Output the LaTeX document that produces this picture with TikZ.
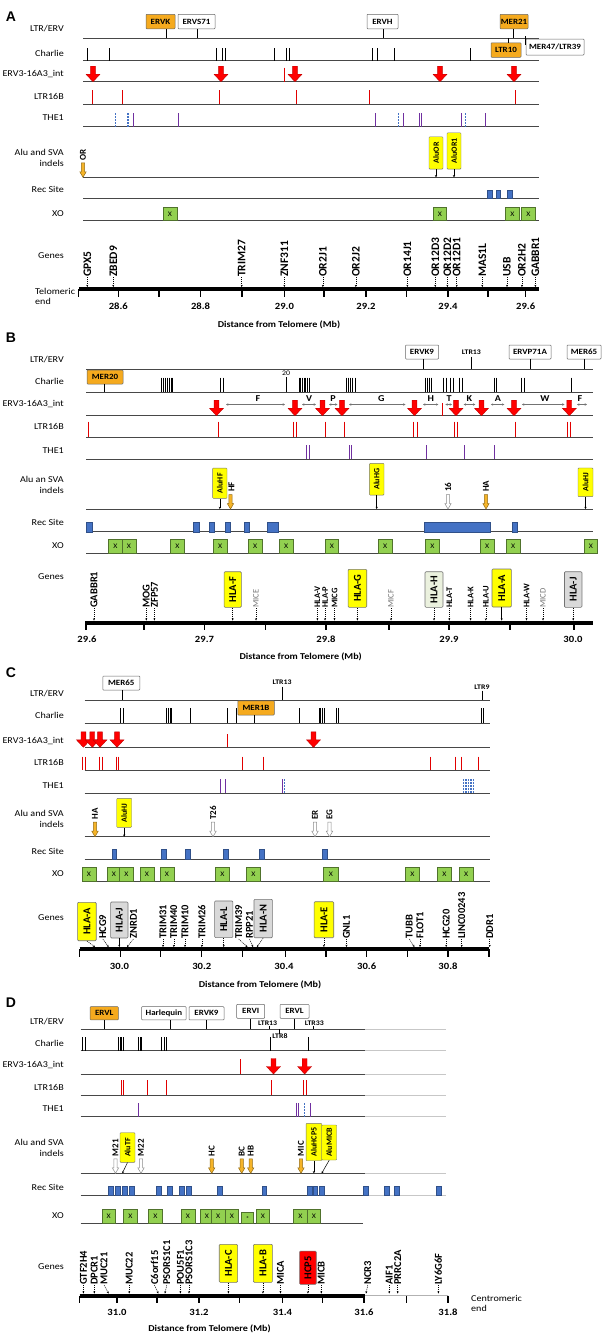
\documentclass[tikz,border=0pt]{standalone}
\usepackage{fontspec}
\setmainfont{Carlito}[FakeStretch=1.12]
\newfontfamily\rotfont{Carlito}
\newfontfamily\panelfont{Liberation Sans}
\usetikzlibrary{arrows.meta}

\definecolor{ervorange}{RGB}{245,170,30}
\definecolor{aluyellow}{RGB}{255,255,0}
\definecolor{xogreen}{RGB}{146,208,80}
\definecolor{recblue}{RGB}{68,114,196}
\definecolor{thepurple}{RGB}{112,48,160}
\definecolor{ltrred}{RGB}{225,0,0}
\definecolor{indelorange}{RGB}{245,180,40}
\definecolor{hlapale}{RGB}{235,241,222}
\definecolor{hlagray}{RGB}{217,217,217}
\definecolor{hcpred}{RGB}{255,0,0}

% red ERV3-16A3_int arrow: x, top
\newcommand{\ervarrow}[2]{%
  \filldraw[fill=red, draw=red!75!black, line width=0.4pt]
    (#1-2.4,#2) -- (#1+2.4,#2) -- (#1+2.4,#2+8) -- (#1+7,#2+8) -- (#1,#2+15.5)
    -- (#1-7,#2+8) -- (#1-2.4,#2+8) -- cycle;}
% narrow indel arrow: fill, border, x, top
\newcommand{\indelarrow}[4]{%
  \filldraw[fill=#1, draw=#2, line width=0.5pt]
    (#3-1.6,#4) -- (#3+1.6,#4) -- (#3+1.6,#4+9) -- (#3+3.2,#4+9) -- (#3,#4+14.5)
    -- (#3-3.2,#4+9) -- (#3-1.6,#4+9) -- cycle;}

\tikzset{
  rowlbl/.style={anchor=east, inner sep=0pt, font=\fontsize{9}{10.6}\selectfont},
  rowline/.style={draw=black!72, line width=1pt},
  extline/.style={draw=black!22, line width=1pt},
  axisbar/.style={line width=4pt},
  axtick/.style={line width=1.3pt},
  axlbl/.style={inner sep=0pt, font=\bfseries\fontsize{9.5}{10}\selectfont},
  distlbl/.style={inner sep=0pt, font=\bfseries\fontsize{9}{10}\selectfont},
  panel/.style={inner sep=0pt, font=\panelfont\bfseries\fontsize{14}{14}\selectfont},
  chtick/.style={line width=1pt, black},
  ltick/.style={line width=1pt, ltrred},
  thetick/.style={line width=1pt, thepurple},
  thedot/.style={line width=1.2pt, recblue, dash pattern=on 1.2pt off 1.8pt},
  repbox/.style={draw=black!60, line width=0.5pt, rounded corners=0.8pt, inner sep=0pt,
    minimum height=14.5pt, font=\bfseries\fontsize{8}{8}\selectfont},
  orbox/.style={repbox, fill=ervorange},
  whbox/.style={repbox, fill=white},
  stem/.style={line width=0.9pt, black},
  reptxt/.style={inner sep=0pt, font=\bfseries\fontsize{7}{8}\selectfont},
  alubox/.style={draw=black!55, fill=aluyellow, rotate=90, rounded corners=0.8pt, inner sep=0pt,
    font=\rotfont\bfseries\fontsize{8}{8}\selectfont},
  smarrow/.style={-{Stealth[length=2.2pt,width=2.2pt]}, line width=0.5pt},
  indlbl/.style={rotate=90, anchor=west, inner sep=0pt, font=\rotfont\bfseries\fontsize{9}{9}\selectfont},
  rec/.style={fill=recblue, draw=recblue!70!black, line width=0.3pt},
  xo/.style={draw=xogreen!55!black, fill=xogreen, line width=0.5pt, minimum width=13.6pt,
    minimum height=13.6pt, inner sep=0pt, font=\fontsize{7}{7}\selectfont},
  gene/.style={rotate=90, anchor=west, inner sep=0pt, font=\rotfont\bfseries\fontsize{10.5}{10.5}\selectfont},
  genesm/.style={gene, font=\rotfont\bfseries\fontsize{8.5}{8.5}\selectfont},
  genegr/.style={gene, text=black!55, font=\rotfont\fontsize{8.5}{8.5}\selectfont},
  hlabox/.style={draw=black!55, line width=0.6pt, rotate=90, rounded corners=1pt, inner sep=0pt,
    font=\rotfont\bfseries\fontsize{10.5}{10.5}\selectfont},
  garrow/.style={-{Stealth[length=2.2pt,width=2pt]}, line width=0.45pt, dash pattern=on 1.2pt off 0.8pt},
  span/.style={{Stealth[length=2.4pt,width=2.4pt]}-{Stealth[length=2.4pt,width=2.4pt]}, black!55, line width=0.6pt},
  spanlbl/.style={inner sep=0pt, font=\bfseries\fontsize{9}{9}\selectfont},
}

\begin{document}
\begin{tikzpicture}[x=1pt, y=-1pt]
\useasboundingbox (0,0) rectangle (608,1339);

%%%%%%%%%% A %%%%%%%%%%
\node[panel] (pA) at (11,17) {A};
% rows
\node[rowlbl] (aLtr) at (64,28.3) {LTR/ERV};
\node[rowlbl] (aCha) at (64,53.3) {Charlie};
\node[rowlbl] (aErv) at (64,74) {ERV3-16A3\_int};
\node[rowlbl] (aLtb) at (64,96.7) {LTR16B};
\node[rowlbl] (aThe) at (64,117.3) {THE1};
\node[rowlbl, align=right] (aAlu) at (64,158) {Alu and SVA\\indels};
\node[rowlbl] (aRec) at (64,189) {Rec Site};
\node[rowlbl] (aXo) at (64,213.3) {XO};
\node[rowlbl] (aGen) at (64,255.7) {Genes};
\foreach \y in {38.3,60.7,81.7,104,126.7,177.3,198.3,220.7}
  \draw[rowline] (83.4,\y) -- (539,\y);

% LTR/ERV
\node[orbox, minimum width=29pt] (ervk) at (160.5,21.5) {ERVK};
\node[whbox, minimum width=37pt] (ervs) at (196.5,21.5) {ERVS71};
\node[whbox, minimum width=31pt] (ervh) at (382.5,21.5) {ERVH};
\node[orbox, minimum width=28pt] (mer21) at (514,21.5) {MER21};
\node[orbox, minimum width=30pt] (ltr10) at (506,50) {LTR10};
\node[whbox, minimum width=58pt, minimum height=16pt] (mer47) at (555,47) {MER47/LTR39};
\draw[stem] (ervk.south -| 166,0) -- (166,38.3);
\draw[stem] (ervs.south -| 197,0) -- (197,38.3);
\draw[stem] (ervh.south -| 383,0) -- (383,38.3);
\draw[stem] (mer21.south -| 513,0) -- (513,38.3);
\draw[stem] (508,38.3) -- (ltr10.north -| 508,0);
\draw[stem, line width=1.3pt] ([yshift=2.3pt]mer47.north west) -- ([yshift=-6.7pt]mer47.north west);

% Charlie
\foreach \x in {87,109,216,222,225,274,286,289,372,377,394,470}
  \draw[chtick] (\x,48.3) -- (\x,60.7);
% ERV3-16A3_int
\foreach \x in {93,221,295,440,514} \ervarrow{\x}{66.2};
\draw[ltick] (284,67.7) -- (284,81.7);
% LTR16B
\foreach \x in {92,122,219,296,369,515} \draw[ltick] (\x,90) -- (\x,104);
% THE1
\foreach \x in {133,178.5,375.6,403.5,419,421.8,461,485} \draw[thetick] (\x,113.3) -- (\x,126.7);
\foreach \x in {115.6,128,398.5,465.6} \draw[thedot] (\x,113.3) -- (\x,126.7);

% Alu and SVA
\node[indlbl] (aor) at (83,160.3) {OR};
\indelarrow{indelorange}{indelorange!60!black}{83}{162.8}
\node[alubox, minimum width=32.3pt, minimum height=14pt] (aluor) at (436,152.9) {AluOR};
\node[alubox, minimum width=36.3pt, minimum height=14pt] (aluora) at (454,150.9) {AluOR1};
\draw[smarrow] (aluor.west) -- (436,177.3);
\draw[smarrow] (aluora.west) -- (454,177.3);

% Rec Site
\foreach \a/\b in {487/492,496/500.5,507.5/512} \draw[rec] (\a,190) rectangle (\b,198.3);
% XO
\foreach \x in {170,439.8,512.3,528.3} \node[xo, minimum height=13pt] (x) at (\x,214.2) {X};

% Genes
\foreach \gx/\gt in {87.3/GPX5,113.3/ZBED9,241.7/TRIM27,284.4/ZNF311,322.8/OR2J1,355.8/OR2J2,
    407.4/OR14J1,435.3/OR12D3,447.4/OR12D2,456.7/OR12D1,482.3/MAS1L,507/USB,521.9/OR2H2,535.4/GABBR1}
  {\node[gene, font=\rotfont\bfseries\fontsize{11.5}{11.5}\selectfont] (g) at (\gx,277) {\gt};
   \draw[garrow] (g.west) -- (\gx,287);}

% axis
\draw[axisbar] (78.8,289) -- (538.5,289);
\foreach \x in {78.8,118.3,159,200.6,242,284.4,324,366,406.6,448,488,525.7}
  \draw[axtick] (\x,289) -- (\x,296.5);
\foreach \x/\t in {118.3/28.6,200.6/28.8,284.4/29.0,366/29.2,448/29.4,525.7/29.6}
  \node[axlbl] (t) at (\x,306) {\t};
\node[rowlbl, anchor=west, align=left] (aTel) at (35,296.5) {Telomeric\\end};
\node[distlbl] (aDist) at (279,325) {Distance from Telomere (Mb)};

%%%%%%%%%% B %%%%%%%%%%
\node[panel] (pB) at (11,338) {B};
\node[rowlbl] (bLtr) at (64,360) {LTR/ERV};
\node[rowlbl] (bCha) at (64,381) {Charlie};
\node[rowlbl] (bErv) at (64,404.3) {ERV3-16A3\_int};
\node[rowlbl] (bLtb) at (64,426.7) {LTR16B};
\node[rowlbl] (bThe) at (64,451) {THE1};
\node[rowlbl, align=right] (bAlu) at (64,484.7) {Alu an SVA\\indels};
\node[rowlbl] (bRec) at (64,522.3) {Rec Site};
\node[rowlbl] (bXo) at (64,546) {XO};
\node[rowlbl] (bGen) at (64,576.7) {Genes};
\foreach \y in {369,392.3,415.7,437.3,459.3,509,531.7,553.3}
  \draw[rowline] (86,\y) -- (593,\y);

% LTR/ERV
\node[whbox, minimum width=33pt, minimum height=14pt] (ervkb) at (422,352) {ERVK9};
\node[reptxt] (ltrb) at (471.4,352) {LTR13};
\node[whbox, minimum width=42pt, minimum height=14pt] (ervp) at (530,352) {ERVP71A};
\node[whbox, minimum width=34pt, minimum height=14pt] (merb) at (584,352) {MER65};
\draw[stem] (ervkb.south -| 423,0) -- (423,369);
\draw[stem] ([yshift=-2pt]ltrb.south) -- (471.4,369);
\draw[stem] (ervp.south) -- (530,369);
\draw[stem] (merb.south -| 584.7,0) -- (584.7,369);

% Charlie
\node[orbox, minimum width=36pt, minimum height=14pt] (mer20) at (105,377) {MER20};
\draw[stem] (mer20.south -| 104.8,0) -- (104.8,392.3);
\foreach \x in {161,163,165,167,169,171,172.7,220.4,223.1,299,300.7,302.4,304.1,305.8,307.5,309.2,
    346.5,348.6,350.8,352.9,355,425.6,427.6,429.6,431.5,443.5,446.2,450,453.2,459.8,462.5,
    494,496.6,521.9,524.6,571.5}
  \draw[chtick] (\x,377.7) -- (\x,392.3);
\node[reptxt, font=\fontsize{7}{7}\selectfont] (c20) at (286,373) {20};
\draw[chtick] ([yshift=-1.5pt]c20.south) -- (286,392.3);

% ERV3-16A3_int
\foreach \x in {216.5,295,322.5,342,414.5,456,481.5,514,569.3} \ervarrow{\x}{400.2};
\draw[ltick] (442.3,403) -- (442.3,415.7);
\foreach \a/\b/\m/\t in {226/285/258/F,302/316/309/V,329/337.5/333/P,349/405.5/381.4/G,
    423/438.4/430.7/H,445.4/452/449/T,463.7/475.3/469.5/K,490.8/504.4/497.8/A,
    521.9/564.5/545/W,577/587/580/F}
  {\draw[span] (\a,404.5) -- (\b,404.5);
   \node[spanlbl] (s) at (\m,398.8) {\t};}
% LTR16B
\foreach \x in {88.5,218.4,293.3,296.7,325,344.3,413.3,417.3,454,457.3,515.7,567.3,570.7}
  \draw[ltick] (\x,421.7) -- (\x,437.3);
% THE1
\foreach \x in {306,309,349,351.7,426.7,464,494} \draw[thetick] (\x,445) -- (\x,459.3);

% Alu an SVA
\node[alubox, minimum width=30.3pt, minimum height=14.4pt] (aluhf) at (219.8,483.2) {AluHF};
\draw[smarrow] (aluhf.west) -- (219.8,509);
\node[indlbl] (hf) at (231.5,492) {HF};
\indelarrow{indelorange}{indelorange!60!black}{230.5}{494.5}
\node[alubox, minimum width=31.7pt, minimum height=14.6pt] (aluhg) at (376.7,479.2) {AluHG};
\draw[smarrow] (aluhg.west) -- (376.7,509);
\node[indlbl] (i16) at (448,492) {16};
\indelarrow{white}{black!45}{448}{494.5}
\node[indlbl] (hab) at (486,492) {HA};
\indelarrow{indelorange}{indelorange!60!black}{486}{494.5}
\node[alubox, minimum width=28.7pt, minimum height=15pt] (aluhj) at (585.5,482.3) {AluHJ};
\draw[smarrow] (aluhj.west) -- (585.5,509);

% Rec Site
\foreach \a/\b in {86/92,193/198.7,209.5/214.6,225/230,244.4/249.5,267/277.8,424/489.7,512/517}
  \draw[rec] (\a,522.3) rectangle (\b,531.7);
% XO
\foreach \x in {115.4,129,177.5,220.2,255.2,286.2,331.9,385.2,432.4,487.2,513.2,590.8}
  \node[xo, minimum height=14pt] (x) at (\x,546.3) {X};

% Genes
\foreach \gx/\gt in {94/GABBR1,146.3/MOG,154.4/ZFP57}
  {\node[gene] (g) at (\gx,608) {\gt}; \draw[garrow] (g.west) -- (\gx,620.5);}
\foreach \gx/\gt in {317.4/HLA-V,325/HLA-P,334.5/MICG,449.3/HLA-T,470.6/HLA-K,485.8/HLA-U,526.5/HLA-W}
  {\node[genesm] (g) at (\gx,608) {\gt}; \draw[garrow] (g.west) -- (\gx,620.5);}
\foreach \gx/\gt in {256/MICE,391/MICF,543/MICD}
  {\node[genegr] (g) at (\gx,608) {\gt}; \draw[garrow] (g.west) -- (\gx,620.5);}
\node[hlabox, fill=aluyellow, minimum width=35.6pt, minimum height=17.3pt] (hlaf) at (232.7,589.5) {HLA-F};
\node[hlabox, fill=aluyellow, minimum width=38pt, minimum height=18.7pt] (hlag) at (357.4,588.3) {HLA-G};
\node[hlabox, fill=hlapale, minimum width=35.6pt, minimum height=18pt] (hlah) at (434,589.5) {HLA-H};
\node[hlabox, fill=aluyellow, minimum width=38pt, minimum height=19.4pt] (hlaa) at (501.7,588) {HLA-A};
\node[hlabox, fill=hlagray, minimum width=35.6pt, minimum height=17.5pt] (hlaj) at (573.2,589.5) {HLA-J};
\foreach \n in {hlaf,hlag,hlah,hlaa,hlaj} \draw[garrow] (\n.west) -- (\n.west |- 0,620.5);

% axis
\draw[axisbar] (85.4,622.7) -- (593,622.7);
\foreach \x in {86,144,204.5,265.8,326,389,449,510,574} \draw[axtick] (\x,622.7) -- (\x,630);
\foreach \x/\t in {87/29.6,204.5/29.7,326/29.8,449/29.9,573/30.0} \node[axlbl] (t) at (\x,639.5) {\t};
\node[distlbl] (bDist) at (300.7,656.7) {Distance from Telomere (Mb)};

%%%%%%%%%% C %%%%%%%%%%
\node[panel] (pC) at (11,673) {C};
\node[rowlbl] (cLtr) at (64,693.3) {LTR/ERV};
\node[rowlbl] (cCha) at (64,715) {Charlie};
\node[rowlbl] (cErv) at (64,740.7) {ERV3-16A3\_int};
\node[rowlbl] (cLtb) at (64,762.7) {LTR16B};
\node[rowlbl] (cThe) at (64,786) {THE1};
\node[rowlbl, align=right] (cAlu) at (64,818.8) {Alu and SVA\\indels};
\node[rowlbl] (cRec) at (64,851) {Rec Site};
\node[rowlbl] (cXo) at (64,874) {XO};
\node[rowlbl] (cGen) at (64,917.7) {Genes};
\foreach \y in {700,723.3,747.3,770,793.3,836.7,859,881}
  \draw[rowline] (84.6,\y) -- (489.7,\y);

% LTR/ERV
\node[whbox, minimum width=37pt, minimum height=14pt] (merc) at (121.3,683) {MER65};
\draw[stem] (merc.south -| 122,0) -- (122,700);
\node[reptxt] (ltrc) at (282,682.7) {LTR13};
\draw[stem] ([yshift=-1.5pt]ltrc.south) -- (282,700);
\node[reptxt] (ltrn) at (482,686.7) {LTR9};
\draw[stem] ([yshift=-1.5pt]ltrn.south) -- (482,700);

% Charlie
\node[orbox, minimum width=36.5pt, minimum height=14.3pt] (mer1b) at (256,707.9) {MER1B};
\draw[stem] (mer1b.south -| 254,0) -- (254,723.3);
\foreach \x in {120.3,123.4,166,168,170,171.5,190,227.8,236.7,299,319,320.7,322.4,324,336,338.7,481,483.8}
  \draw[chtick] (\x,708.3) -- (\x,723.3);
% ERV3-16A3_int
\foreach \x in {83.4,92.3,100,117,313.5} \ervarrow{\x}{731.8};
\draw[ltick] (227.8,734) -- (227.8,747.3);
% LTR16B
\foreach \x in {82.6,85.4,99.7,102,116.4,118.7,242.5,263.8,430.7,455,461.7,478}
  \draw[ltick] (\x,756.7) -- (\x,770);
% THE1
\foreach \x in {220,225,282.5} \draw[thetick] (\x,779.3) -- (\x,793.3);
\foreach \x in {284.5,463.7,466,468.5,471,473.4} \draw[thedot] (\x,779.3) -- (\x,793.3);

% Alu and SVA
\node[indlbl] (hac) at (95,819.7) {HA};
\indelarrow{indelorange}{indelorange!60!black}{95}{822.2}
\node[alubox, minimum width=29pt, minimum height=15pt] (aluhjc) at (124.2,812.8) {AluHJ};
\draw[smarrow] (aluhjc.west) -- (124.2,836.7);
\node[indlbl] (t26) at (213,819.7) {T26};
\indelarrow{white}{black!45}{213}{822.2}
\node[indlbl] (er) at (315,819.7) {ER};
\indelarrow{white}{black!45}{315}{822.2}
\node[indlbl] (eg) at (329.5,819.7) {EG};
\indelarrow{white}{black!45}{329.5}{822.2}

% Rec Site
\foreach \a/\b in {111.7/116.4,161/166,185/190,223/227.8,259/264,322/326.7}
  \draw[rec] (\a,849.3) rectangle (\b,859);
% XO
\foreach \x in {88.9,113.9,126.5,147,166.9,222.5,253.5,330.8,412.3,444.5,466.2}
  \node[xo, minimum width=14.2pt, minimum height=14.3pt] (x) at (\x,873.9) {X};

% Genes
\node[hlabox, fill=aluyellow, minimum width=38.4pt, minimum height=18.6pt] (hlaac) at (86.9,921.5) {HLA-A};
\node[hlabox, fill=hlagray, minimum width=36pt, minimum height=17.4pt] (hlajc) at (119.3,920) {HLA-J};
\node[hlabox, fill=hlagray, minimum width=36.7pt, minimum height=18.2pt] (hlal) at (223.7,919.3) {HLA-L};
\node[hlabox, fill=hlagray, minimum width=38.4pt, minimum height=18.4pt] (hlan) at (263.2,918.5) {HLA-N};
\node[hlabox, fill=aluyellow, minimum width=36pt, minimum height=19.7pt] (hlae) at (323.9,919.7) {HLA-E};
\draw[garrow] (hlaac.west) -- (95,947);
\draw[garrow] (hlajc.west) -- (119.3,947);
\draw[garrow] (hlal.west) -- (223.7,947);
\draw[garrow] (hlan.west) -- (256.9,947);
\draw[garrow] (hlae.west) -- (323.9,947);
\foreach \gx/\tx/\gt in {102.8/108.6/HCG9,133.5/127/ZNRD1,163/163/TRIM31,173.8/173.8/TRIM40,
    185/185/TRIM10,201.8/201.8/TRIM26,238.6/247.5/TRIM39,249.5/253/RPP21,346.5/346.5/GNL1,
    409.3/414.4/TUBB,420/420/FLOT1,446.2/446.2/HCG20,461.7/461.7/LINC00243,489.7/489.7/DDR1}
  {\node[gene] (g) at (\gx,939) {\gt}; \draw[garrow] (g.west) -- (\tx,947);}

% axis
\draw[axisbar] (79.5,949) -- (489,949);
\foreach \x in {79.5,120.3,160.2,201.8,242.5,285.2,326,366.7,407.4,448.1,488.9}
  \draw[axtick] (\x,949) -- (\x,956.5);
\foreach \x/\t in {119.5/30.0,201.8/30.2,284/30.4,366.7/30.6,448/30.8} \node[axlbl] (t) at (\x,966.5) {\t};
\node[distlbl] (cDist) at (260,985) {Distance from Telomere (Mb)};

%%%%%%%%%% D %%%%%%%%%%
\node[panel] (pD) at (11,1003) {D};
\node[rowlbl] (dLtr) at (64,1021.7) {LTR/ERV};
\node[rowlbl] (dCha) at (64,1043.3) {Charlie};
\node[rowlbl] (dErv) at (64,1065) {ERV3-16A3\_int};
\node[rowlbl] (dLtb) at (64,1087.7) {LTR16B};
\node[rowlbl] (dThe) at (64,1108.3) {THE1};
\node[rowlbl, align=right] (dAlu) at (64,1148) {Alu and SVA\\indels};
\node[rowlbl] (dRec) at (64,1187.7) {Rec Site};
\node[rowlbl] (dXo) at (64,1215.7) {XO};
\node[rowlbl] (dGen) at (64,1266.7) {Genes};
\foreach \y in {1029.3,1050.7,1074,1095,1116.7,1173.3,1195}
  {\draw[extline] (365,\y) -- (446,\y);
   \draw[rowline] (80.5,\y) -- (365,\y);}
\draw[rowline] (80.5,1223.3) -- (363,1223.3);

% LTR/ERV
\node[orbox, minimum width=28.3pt, minimum height=13.3pt] (ervl) at (104.2,1013.3) {ERVL};
\node[whbox, minimum width=44.6pt, minimum height=13.3pt] (harl) at (163.9,1013.3) {Harlequin};
\node[whbox, minimum width=35pt, minimum height=13.3pt] (ervkd) at (206.5,1013.3) {ERVK9};
\node[whbox, minimum width=28pt, minimum height=14pt] (ervi) at (250.7,1011.3) {ERVI};
\node[whbox, minimum width=29pt, minimum height=14pt] (ervld) at (294.5,1011.3) {ERVL};
\draw[stem] (ervl.south -| 104.8,0) -- (104.8,1029.3);
\draw[stem] (harl.south -| 170.7,0) -- (170.7,1029.3);
\draw[stem] (ervkd.south -| 206.4,0) -- (206.4,1029.3);
\draw[stem] (ervi.south -| 250.3,0) -- (250.3,1029.3);
\draw[stem] (ervld.south -| 294.9,0) -- (294.9,1029.3);
\node[reptxt] (ltrd) at (267.7,1023.3) {LTR13};
\draw[stem, line width=0.6pt] (ltrd.south -| 269.7,0) -- (269.7,1029.3);
\node[reptxt] (ltre) at (280,1036.5) {LTR8};
\draw[stem, line width=0.6pt] (279.4,1029.3) -- (ltre.north -| 279.4,0);
\node[reptxt] (ltrf) at (314.3,1023.3) {LTR33};
\draw[stem, line width=0.6pt] (ltrf.south -| 313.5,0) -- (313.5,1029.3);

% Charlie
\foreach \x in {82.3,85.4,118.3,120,121.7,123.4,138.5,140,141.6,161,164,166.8,270.8,308.5}
  \draw[chtick] (\x,1037.3) -- (\x,1050.7);
% ERV3-16A3_int
\foreach \x in {273.5,304.6} \ervarrow{\x}{1058.5};
\draw[ltick] (240.6,1059) -- (240.6,1074);
% LTR16B
\foreach \x in {121,123.4,147.4,166,271.6,303.8,306.5} \draw[ltick] (\x,1080) -- (\x,1095);
% THE1
\foreach \x in {138.5,296,298,310.4} \draw[thetick] (\x,1103.3) -- (\x,1116.7);
\draw[thedot] (304.6,1103.3) -- (304.6,1116.7);

% Alu and SVA
\node[indlbl] (m21) at (115.5,1156.3) {M21};
\indelarrow{white}{black!45}{115.5}{1158.8}
\node[alubox, minimum width=29.6pt, minimum height=15pt] (alutf) at (127.5,1147.5) {AluTF};
\draw[smarrow] (alutf.west) -- (122.3,1173.3);
\node[indlbl] (m22) at (141,1156.3) {M22};
\indelarrow{white}{black!45}{141}{1158.8}
\node[indlbl] (hc) at (211.7,1156.3) {HC};
\indelarrow{indelorange}{indelorange!60!black}{211.7}{1158.8}
\node[indlbl] (bc) at (241.7,1156.3) {BC};
\indelarrow{indelorange}{indelorange!60!black}{241.7}{1158.8}
\node[indlbl] (hb) at (250.7,1156.3) {HB};
\indelarrow{indelorange}{indelorange!60!black}{250.7}{1158.8}
\node[indlbl] (mic) at (301,1156.3) {MIC};
\indelarrow{indelorange}{indelorange!60!black}{301}{1158.8}
\node[alubox, minimum width=37.4pt, minimum height=15.7pt] (aluhcp) at (313.9,1142) {AluHCP5};
\node[alubox, minimum width=35pt, minimum height=15pt] (alumicb) at (329.2,1142.5) {AluMICB};
\draw[smarrow] (aluhcp.west) -- (313.9,1173.3);
\draw[smarrow] (alumicb.west) -- (321.7,1173.3);

% Rec Site
\foreach \a/\b in {108.6/113.3,115.2/120,122.2/126.9,129.2/133.9,156.4/161,167.6/172.3,179.6/184.3,
    186.6/191.3,217.3/222,262/266.6,307.3/312,312.7/317.4,319.3/324,363.6/368.6,384/388.8,
    394.6/399.6,435.7/440.8}
  \draw[rec] (\a,1185.7) rectangle (\b,1195);
% XO
\foreach \x in {108.6,130.5,155.4,188,207,218.2,231.8,262.8,300.5,313.9}
  \node[xo, minimum height=14.3pt] (x) at (\x,1216.1) {X};
\node[xo, minimum width=11.7pt, minimum height=10.6pt, font=\fontsize{4}{4}\selectfont] (xs) at (247.5,1218) {x};

% Genes
\node[hlabox, fill=aluyellow, minimum width=38pt, minimum height=18.3pt] (hlac) at (228.4,1263.3) {HLA-C};
\node[hlabox, fill=aluyellow, minimum width=38pt, minimum height=19pt] (hlab) at (262.9,1263.3) {HLA-B};
\node[hlabox, fill=hcpred, minimum width=33.3pt, minimum height=16.7pt] (hcp) at (307.9,1267.7) {HCP5};
\foreach \n in {hlac,hlab,hcp} \draw[garrow] (\n.west) -- (\n.west |- 0,1293.5);
\foreach \gx/\tx/\gt in {83.4/83.4/GTF2H4,94.3/94.3/DPCR1,104/108.6/MUC21,129.2/129.2/MUC22,
    154.4/158.3/C6orf15,166.8/164.9/PSORS1C1,180.4/180.4/POU5F1,189/189/PSORS1C3,
    280.5/280.5/MICA,321.3/321.3/MICB,367.8/366/NCR3,389.2/389.2/AIF1,397.7/397.7/PRRC2A,
    438.4/438.4/LY6G6F}
  {\node[gene] (g) at (\gx,1285) {\gt}; \draw[garrow] (g.west) -- (\tx,1293.5);}

% axis
\draw[black!30, line width=1.5pt] (364.7,1295.7) -- (448,1295.7);
\draw[axisbar] (79.5,1295.7) -- (364.7,1295.7);
\foreach \x in {79.5,117,157,199,239.8,282.5,322.8,364,406.6,448}
  \draw[axtick] (\x,1295.7) -- (\x,1303);
\foreach \x/\t in {117/31.0,199/31.2,282.5/31.4,364/31.6,448/31.8} \node[axlbl] (t) at (\x,1312.7) {\t};
\node[rowlbl, anchor=west, align=left] (dCen) at (471,1303.5) {Centromeric\\end};
\node[distlbl] (dDist) at (209.5,1329) {Distance from Telomere (Mb)};
\end{tikzpicture}
\end{document}
